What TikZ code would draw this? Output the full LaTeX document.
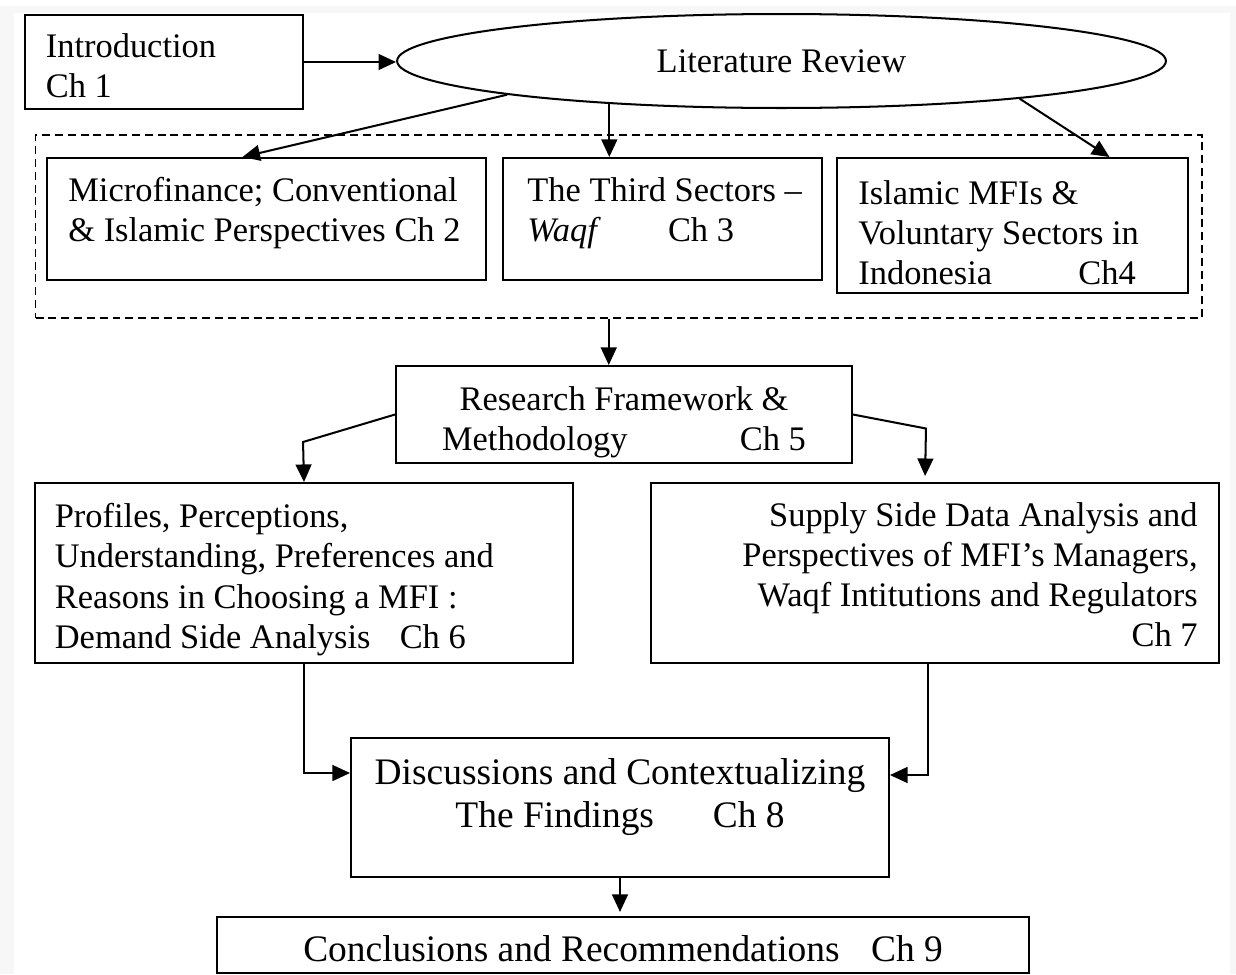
\documentclass[tikz,border=0pt]{standalone}
\usepackage{fontspec}
\setmainfont{Liberation Serif}
\usetikzlibrary{arrows.meta,shapes.geometric}
\newcommand{\txtfont}{\fontsize{19.6pt}{22.9pt}\selectfont}
\newcommand{\bigtxtfont}{\fontsize{21.3pt}{24.4pt}\selectfont}

\begin{document}
\begin{tikzpicture}[x=0.02cm, y=-0.02cm,
  box/.style={draw, line width=1.15pt, inner sep=0pt},
  txt/.style={font=\txtfont, inner sep=0pt, align=left, anchor=north west},
  arr/.style={line width=1.15pt, -{Triangle[length=10pt, width=9pt]}}]

% --- Page background ---
\useasboundingbox (0,0) rectangle (1236,974);
\fill[gray!6] (0,6) rectangle (1236,974);
\fill[white] (14,13) rectangle (1230,974);

% --- Top row ---
\node[box, minimum width=5.57cm, minimum height=1.88cm] (intro) at (164.25,62) {};
\node[txt] (introtxt) at (45.5,33) {Introduction\\Ch 1};
\node[draw, ellipse, line width=1.15pt, inner sep=0pt, font=\txtfont,
  minimum width=15.38cm, minimum height=1.88cm] (litrev) at (781.5,61) {Literature Review};

% --- Literature chapters (dashed group) ---
\node[draw, line width=0.9pt, dash pattern=on 4.5pt off 2.8pt, inner sep=0pt,
  minimum width=23.33cm, minimum height=3.66cm] (litgroup) at (618.75,226.5) {};
\node[box, minimum width=8.78cm, minimum height=2.44cm] (ch2) at (266.5,219) {};
\node[box, minimum width=6.38cm, minimum height=2.44cm] (ch3) at (662.5,219) {};
\node[box, minimum width=7.02cm, minimum height=2.7cm] (ch4) at (1012.5,225.5) {};
\node[txt] (ch2txt) at (68,177) {Microfinance; Conventional\\\& Islamic Perspectives Ch 2};
\node[txt] (ch3txt) at (527,177) {The Third Sectors --\\\textit{Waqf}\hspace{1.95em}Ch 3};
\node[txt] (ch4txt) at (858,180) {Islamic MFIs \&\\Voluntary Sectors in\\Indonesia\hspace{2.5em}Ch4};

% --- Framework and analysis chapters ---
\node[box, minimum width=9.12cm, minimum height=1.94cm] (ch5) at (624,414.5) {};
\node[txt, align=center, anchor=north] (ch5txt) at (624,386)
  {Research Framework \&\\Methodology\hspace{3.26em}Ch 5};
\node[box, minimum width=10.76cm, minimum height=3.6cm] (ch6) at (304,573) {};
\node[box, minimum width=11.36cm, minimum height=3.6cm] (ch7) at (935,573) {};
\node[txt] (ch6txt) at (54.5,503)
  {Profiles, Perceptions,\\Understanding, Preferences and\\Reasons in Choosing a MFI :\\Demand Side Analysis\hspace{0.85em}Ch 6};
\node[txt, align=right, anchor=north east] (ch7txt) at (1198,502)
  {Supply Side Data Analysis and\\Perspectives of MFI’s Managers,\\Waqf Intitutions and Regulators\\Ch 7};

% --- Findings and conclusions ---
\node[box, minimum width=10.76cm, minimum height=2.78cm] (ch8) at (620,807.5) {};
\node[txt, font=\bigtxtfont, align=center, anchor=north] (ch8txt) at (620,758)
  {Discussions and Contextualizing\\The Findings\hspace{1.57em}Ch 8};
\node[box, minimum width=16.24cm, minimum height=1.12cm] (ch9) at (623,945) {};
\node[txt, font=\bigtxtfont, anchor=north] (ch9txt) at (623,935)
  {Conclusions and Recommendations\hspace{0.84em}Ch 9};

% --- Connectors ---
\draw[arr] (intro.east) -- (intro.east -| litrev.west);
\draw[arr] (litrev.187) -- ([xshift=-0.48cm]ch2.north);
\draw[arr] (litrev.194) -- (litrev.194 |- ch3.north);
\draw[arr] (litrev.351) -- ([xshift=1.94cm]ch4.north);
\draw[arr] ([xshift=-0.2cm]litgroup.south) -- ([xshift=-0.2cm]litgroup.south |- ch5.north);
\draw[arr] (ch5.west) -- ++(-92,27.5) -- (ch6.north);
\draw[arr, shorten >=3.4pt] (ch5.east) -- ++(73,14) -- ([xshift=-0.2cm]ch7.north);
\draw[arr] (ch6.south) |- ([yshift=0.69cm]ch8.west);
\draw[arr] ([xshift=-0.14cm]ch7.south) |- ([yshift=0.65cm]ch8.east);
\draw[arr, shorten >=2.3pt] (ch8.south) -- (ch8.south |- ch9.north);

\end{tikzpicture}
\end{document}
